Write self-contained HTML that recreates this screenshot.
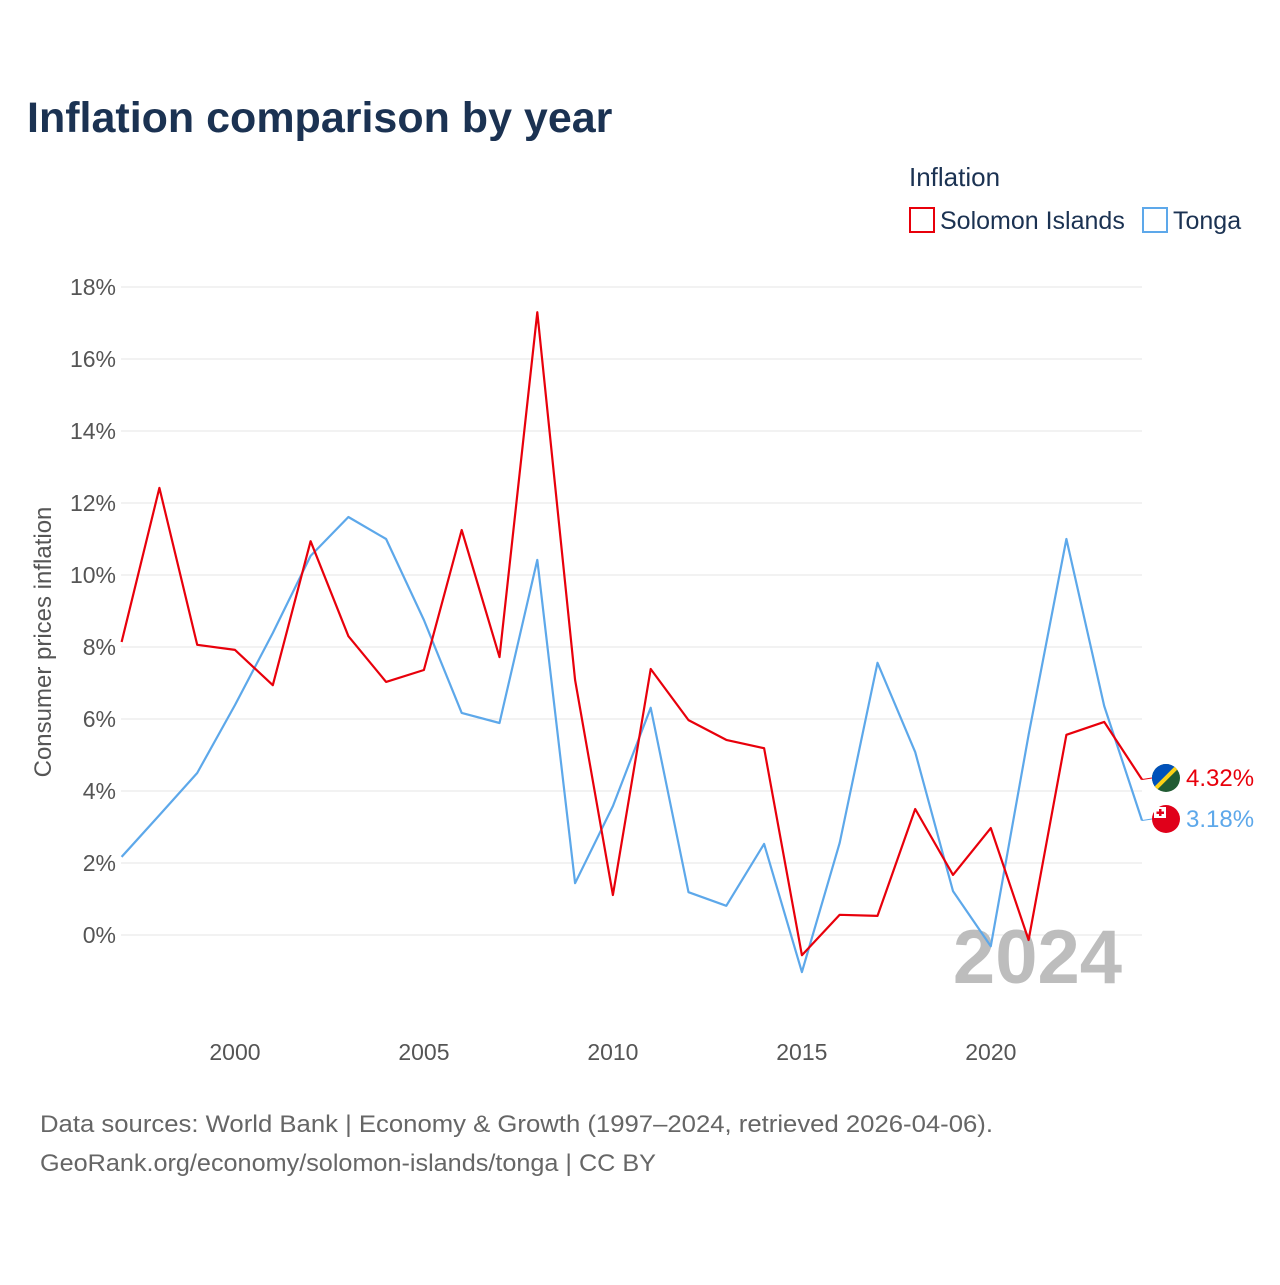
<!DOCTYPE html>
<html><head><meta charset="utf-8">
<style>
body{margin:0;background:#fff;font-family:"Liberation Sans",sans-serif;}
svg text{font-family:"Liberation Sans",sans-serif;}
</style></head>
<body>
<svg width="1280" height="1280" viewBox="0 0 1280 1280" xmlns="http://www.w3.org/2000/svg">
<defs><clipPath id="fc"><circle cx="1166" cy="778" r="14"/></clipPath></defs>
<rect width="1280" height="1280" fill="#fff"/>
<text x="27" y="132" font-size="43" font-weight="bold" fill="#1b3252">Inflation comparison by year</text>
<text x="909" y="186" font-size="26" fill="#1b3252">Inflation</text>
<g>
<rect x="910" y="208" width="24" height="24" fill="none" stroke="#e8000b" stroke-width="2"/>
<text x="940" y="229" font-size="25" fill="#1b3252">Solomon Islands</text>
</g>
<g>
<rect x="1143" y="208" width="24" height="24" fill="none" stroke="#5da8ea" stroke-width="2"/>
<text x="1173" y="229" font-size="25" fill="#1b3252">Tonga</text>
</g>
<g id="grid"></g>
<g id="yticks"></g>
<g id="xticks"></g>
<text transform="translate(51,642) rotate(-90)" text-anchor="middle" font-size="24" fill="#555">Consumer prices inflation</text>
<text x="1122" y="983" text-anchor="end" font-size="76" font-weight="bold" fill="#bdbdbd">2024</text>
<g id="series"></g>
<g clip-path="url(#fc)">
<rect x="1150" y="762" width="32" height="32" fill="#215b33"/>
<path d="M1150,762 L1182,762 L1150,794 Z" fill="#0051ba"/>
<line x1="1150" y1="794" x2="1182" y2="762" stroke="#fcd116" stroke-width="4"/>
</g>
<g>
<circle cx="1166" cy="819" r="14" fill="#e0001a"/>
<rect x="1154" y="807" width="12" height="11" fill="#fff"/>
<rect x="1159" y="809" width="2.5" height="7" fill="#e0001a"/>
<rect x="1156.5" y="811.5" width="7.5" height="2.5" fill="#e0001a"/>
</g>
<text id="lblS" x="1186" y="786" font-size="24" fill="#e8000b"></text>
<text id="lblT" x="1186" y="827" font-size="24" fill="#5da8ea"></text>
<text x="40" y="1132" font-size="24" fill="#666" textLength="953" lengthAdjust="spacingAndGlyphs">Data sources: World Bank | Economy &amp; Growth (1997–2024, retrieved 2026-04-06).</text>
<text x="40" y="1171" font-size="24" fill="#666" textLength="616" lengthAdjust="spacingAndGlyphs">GeoRank.org/economy/solomon-islands/tonga | CC BY</text>
</svg>
<script>
const years=[1997,1998,1999,2000,2001,2002,2003,2004,2005,2006,2007,2008,2009,2010,2011,2012,2013,2014,2015,2016,2017,2018,2019,2020,2021,2022,2023,2024];
const solomon=[8.14,12.42,8.06,7.92,6.94,10.94,8.3,7.03,7.36,11.25,7.72,17.3,7.08,1.11,7.39,5.97,5.42,5.19,-0.56,0.56,0.53,3.5,1.67,2.97,-0.14,5.56,5.92,4.32];
const tonga=[2.17,3.33,4.5,6.39,8.39,10.53,11.61,11.0,8.75,6.17,5.89,10.42,1.44,3.58,6.31,1.19,0.81,2.53,-1.03,2.56,7.56,5.08,1.22,-0.31,5.56,11.0,6.36,3.18];
const yTicks=[0,2,4,6,8,10,12,14,16,18];
const xTicks=[2000,2005,2010,2015,2020];
const NS="http://www.w3.org/2000/svg";
function xs(y){return 121.6+(y-1997)*(1142-121.6)/27;}
function ys(v){return 935-v*36;}
function mk(t,a,p){const e=document.createElementNS(NS,t);for(const k in a)e.setAttribute(k,a[k]);p.appendChild(e);return e;}
const grid=document.getElementById('grid'),yt=document.getElementById('yticks'),xt=document.getElementById('xticks'),ser=document.getElementById('series');
yTicks.forEach(v=>{
 const l=mk('line',{x1:121,x2:1142,y1:ys(v),y2:ys(v),stroke:'#e6e6e6','stroke-width':1},grid);
 
 
 const t=mk('text',{x:116,y:ys(v)+8,'text-anchor':'end','font-size':23,fill:'#555'},yt);
 t.textContent=v+'%';
 
 
});
xTicks.forEach(y=>{
 const t=mk('text',{x:xs(y),y:1060,'text-anchor':'middle','font-size':23,fill:'#555'},xt);
 t.textContent=y;
 
 
});
function line(vals,col,name){
 const d=vals.map((v,i)=>(i?'L':'M')+xs(years[i]).toFixed(1)+','+ys(v).toFixed(1)).join('');
 const p=mk('path',{d:d,fill:'none',stroke:col,'stroke-width':2.2,'stroke-linejoin':'round'},ser);
 
 
}
line(tonga,'#5da8ea','line-tonga');
line(solomon,'#e8000b','line-solomon-islands');
const lastS=solomon[solomon.length-1],lastT=tonga[tonga.length-1];
const c1=mk('line',{x1:xs(2024),y1:ys(lastS),x2:1152,y2:778,stroke:'#e8000b','stroke-width':1},ser);


const c2=mk('line',{x1:xs(2024),y1:ys(lastT),x2:1152,y2:819,stroke:'#5da8ea','stroke-width':1},ser);


document.getElementById('lblS').textContent=lastS.toFixed(2)+'%';
document.getElementById('lblT').textContent=lastT.toFixed(2)+'%';
</script>
</body></html>
